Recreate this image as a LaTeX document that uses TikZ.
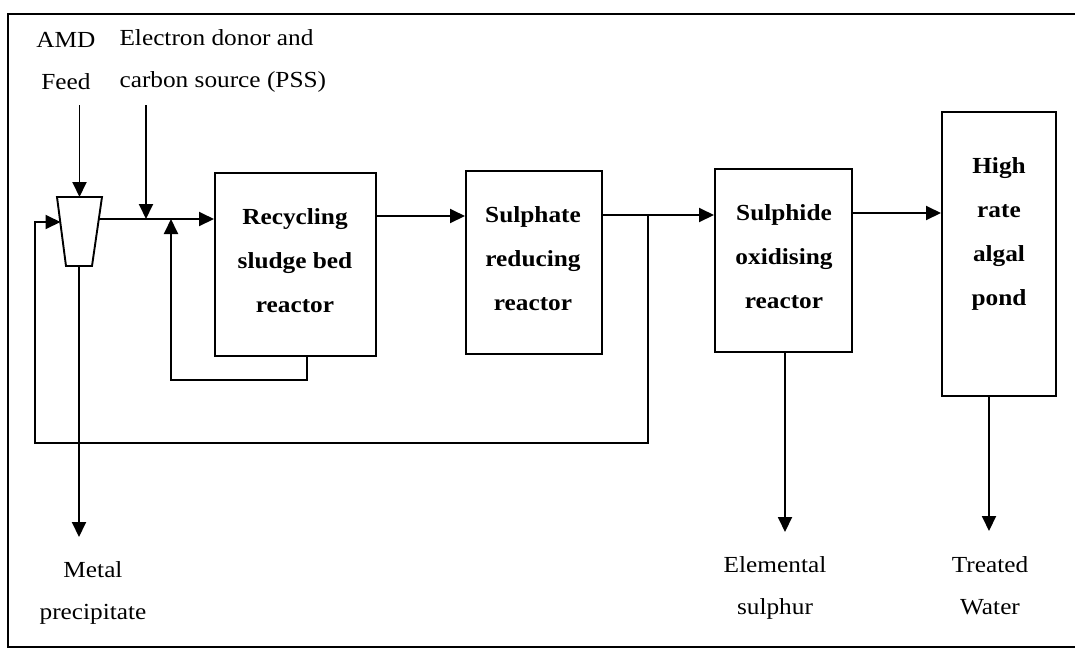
\documentclass[tikz,border=0pt]{standalone}
\usepackage{fontspec}
\setmainfont{Liberation Serif}[FakeStretch=1.1]
\usetikzlibrary{shapes.geometric, arrows.meta, positioning, calc}

\begin{document}
\begin{tikzpicture}[x=1pt, y=-1pt]
        % Define styles
        \tikzstyle{reactor} = [rectangle, draw, line width=2pt, anchor=north west, inner sep=0pt]
        \tikzstyle{boxtext} = [align=center, font=\fontsize{23}{44}\selectfont\bfseries]
        \tikzstyle{streamtext} = [align=center, font=\fontsize{23}{42}\selectfont]
        \tikzstyle{arrow} = [-{Triangle[length=15pt, width=14pt]}, line width=1.9pt]

        % Frame
        \useasboundingbox (0,0) rectangle (1075,649);
        \clip (0,0) rectangle (1075,649);
        \draw[line width=1.8pt] (8,14) rectangle (1090,647);

        % Settler
        \draw[line width=1.9pt] (57,197) coordinate (sepnw) -- (102,197) coordinate (sepne)
            -- (92,266) coordinate (sepse) -- (66,266) coordinate (sepsw) -- cycle;
        \coordinate (sepin) at (79.5,197);
        \coordinate (sepout) at (99,219);
        \coordinate (sepret) at (60.5,222);
        \coordinate (sepbot) at (79,266);

        % Reactors - left to right
        \node[reactor, minimum width=161pt, minimum height=183pt] (rsb) at (214,172) {};
        \node[reactor, minimum width=136pt, minimum height=183pt] (srr) at (465,170) {};
        \node[reactor, minimum width=137pt, minimum height=183pt] (soxr) at (714,168) {};
        \node[reactor, minimum width=114pt, minimum height=284pt] (hrap) at (941,111) {};

        \node[boxtext] (rsbtext) at (295,261) {Recycling\\sludge bed\\reactor};
        \node[boxtext] (srrtext) at (533,259) {Sulphate\\reducing\\reactor};
        \node[boxtext] (soxrtext) at (784,257) {Sulphide\\oxidising\\reactor};
        \node[boxtext] (hraptext) at (999,234) {High\\rate\\algal\\pond};

        % Streams
        \node[streamtext] (amd) at (66,61) {AMD\\Feed};
        \node[streamtext, align=left, anchor=west] (pss) at (116,61) {Electron donor and\\carbon source (PSS)};
        \node[streamtext] (metal) at (93,593) {Metal\\precipitate};
        \node[streamtext] (sulphur) at (775,588) {Elemental\\sulphur};
        \node[streamtext] (water) at (990,586) {Treated\\Water};

        % Junctions
        \coordinate (amdin) at (79.5,105);
        \coordinate (pssin) at (146,105);
        \coordinate (mix) at (146,219);
        \coordinate (rin) at (171,219);
        \coordinate (split) at (648,215);
        \coordinate (retcorner) at (35,222);
        \coordinate (metalout) at (79,537);
        \coordinate (sulout) at (785,532);
        \coordinate (waterout) at (989,531);

        % Connections
        \draw[arrow] (amdin) -- (sepin);
        \draw[arrow] (pssin) -- (mix);
        \draw[arrow] (sepout) -- (mix -| rsb.west);
        \draw[arrow] ($(rsb.south west)+(93,0)$) -- ++(0,23) -| (rin);
        \draw[arrow] ($(rsb.north east)+(0,44)$) -- ($(srr.north west)+(0,46)$);
        \draw[arrow] ($(srr.north east)+(0,45)$) -- ($(soxr.north west)+(0,47)$);
        \draw[arrow] (split) -- (split |- 0,443) -| (retcorner) -- (sepret);
        \draw[arrow] ($(soxr.north east)+(0,45)$) -- ($(hrap.north west)+(0,102)$);
        \draw[arrow] (sepbot) -- (metalout);
        \draw[arrow] (soxr.south -| sulout) -- (sulout);
        \draw[arrow] (hrap.south -| waterout) -- (waterout);

    \end{tikzpicture}
\end{document}
